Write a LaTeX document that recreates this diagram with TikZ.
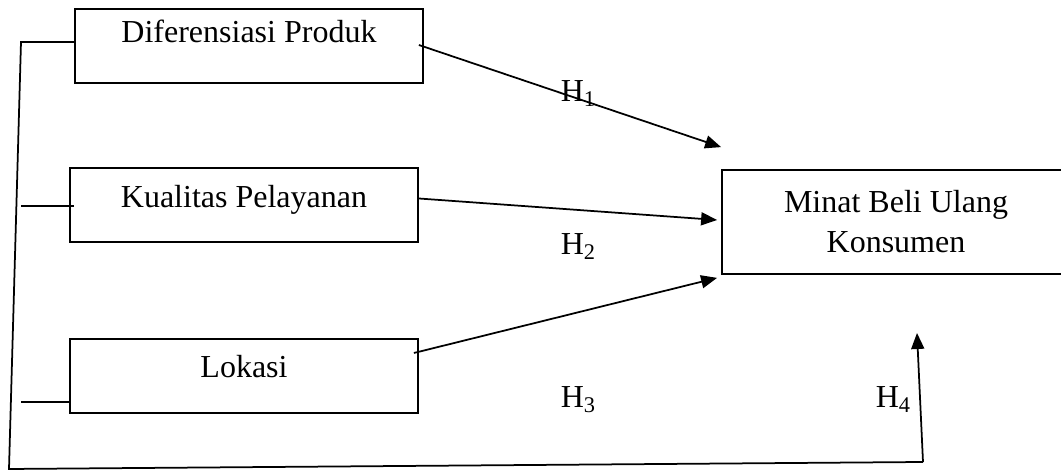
\documentclass[tikz,border=0pt]{standalone}
\usepackage{fontspec}
\setmainfont{Liberation Serif}
\usepackage{tikz}
\usetikzlibrary{arrows.meta,positioning}

\begin{document}
\begin{tikzpicture}[x=0.4pt,y=-0.4pt,line width=0.7pt,
		font=\fontsize{12.8}{16}\selectfont,
		varbox/.style={draw,inner sep=0pt,minimum width=139.2pt,minimum height=29.6pt},
		hlabel/.style={anchor=base west,inner sep=0pt},
		arr/.style={-{Triangle[length=6.4pt,width=5.2pt]}}]
		\useasboundingbox (0,0) rectangle (1061,470);
		% variabel
		\node[varbox,text height=13.6pt,text depth=16pt] (dp) at (249,46) {Diferensiasi Produk};
		\node[varbox,text height=16pt,text depth=13.6pt] (kp) at (244,205) {Kualitas Pelayanan};
		\node[varbox,text height=15.6pt,text depth=14pt] (lk) at (244,376) {Lokasi};
		\node[varbox,minimum height=41.6pt,align=center] (mb) at (896,222) {Minat Beli Ulang\\Konsumen};
		% garis simultan
		\coordinate (tl) at (21,42);
		\coordinate (bl) at (9,469);
		\coordinate (br) at (923,462);
		\coordinate (tip) at (917,333);
		\draw ([yshift=1.6pt]dp.west) -- (tl) -- (bl) -- (br);
		\draw ([xshift=2pt,yshift=-0.4pt]kp.west) -- ++(-53,0);
		\draw ([yshift=4.8pt]lk.south west) -- ++(-48,0);
		\draw[arr] (br) -- (tip);
		% pengaruh parsial
		\draw[arr] ([xshift=-2pt,yshift=0.4pt]dp.east) -- ([yshift=8.8pt]mb.north west);
		\draw[arr] ([yshift=2.6pt]kp.east) -- ([xshift=-1.6pt,yshift=0.8pt]mb.west);
		\draw[arr] ([xshift=-2pt,yshift=9.2pt]lk.east) -- ([xshift=-1.6pt,yshift=-1.2pt]mb.south west);
		\foreach \i/\x/\y in {1/560/102,2/560/255,3/560/408,4/875/408}{
			\node[hlabel] (h\i) at (\x,\y) {H\textsubscript{\i}};
		}
	\end{tikzpicture}
\end{document}
